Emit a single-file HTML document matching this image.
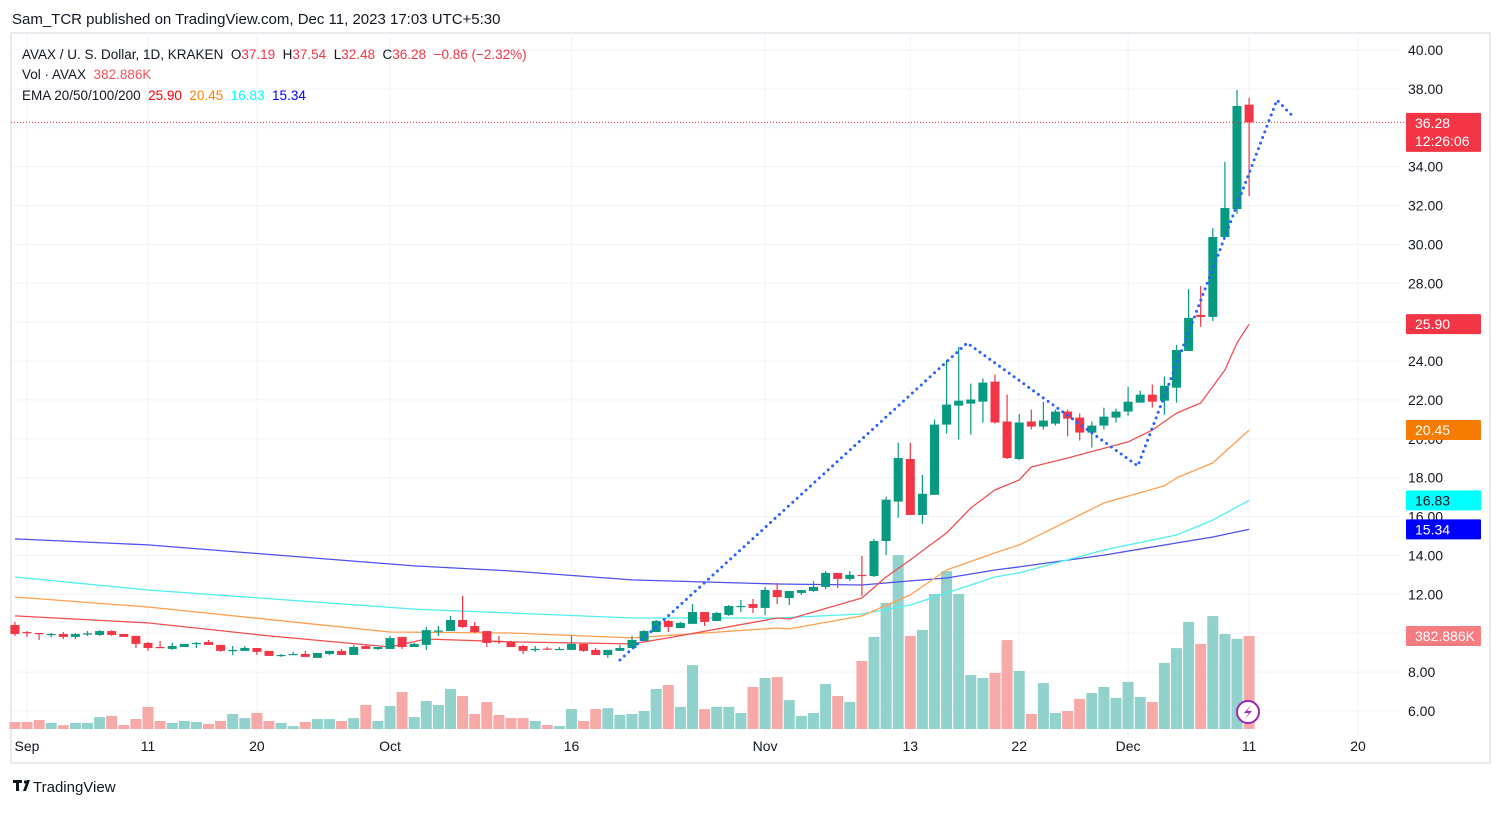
<!DOCTYPE html>
<html><head><meta charset="utf-8">
<style>
html,body{margin:0;padding:0;background:#fff;}
body{width:1504px;height:808px;overflow:hidden;font-family:"Liberation Sans",sans-serif;}
svg text{font-family:"Liberation Sans",sans-serif;}
</style></head>
<body>
<svg id="chart" width="1504" height="808" viewBox="0 0 1504 808" xmlns="http://www.w3.org/2000/svg">
  <text x="12" y="24" font-size="15" fill="#131722">Sam_TCR published on TradingView.com, Dec 11, 2023 17:03 UTC+5:30</text>
  <rect x="11" y="33" width="1479" height="730" fill="none" stroke="#e0e3eb" stroke-width="1.5"/>
  <g id="grid"></g>
  <g id="vol"></g>
  <g id="ema"></g>
  <g id="candles"></g>
  <g id="zig"></g>
  <g id="axes"></g>
  <g font-size="13.5">
    <text x="22" y="59" fill="#131722">AVAX / U. S. Dollar, 1D, KRAKEN&#160; O<tspan fill="#f23645">37.19</tspan>&#160; H<tspan fill="#f23645">37.54</tspan>&#160; L<tspan fill="#f23645">32.48</tspan>&#160; C<tspan fill="#f23645">36.28</tspan>&#160; <tspan fill="#f23645">−0.86 (−2.32%)</tspan></text>
    <text x="22" y="79" fill="#131722">Vol · AVAX&#160; <tspan fill="#f7525f">382.886K</tspan></text>
    <text x="22" y="100" fill="#131722">EMA 20/50/100/200&#160; <tspan fill="#ff0000">25.90</tspan>&#160; <tspan fill="#ff8000">20.45</tspan>&#160; <tspan fill="#00ffff">16.83</tspan>&#160; <tspan fill="#0000ff">15.34</tspan></text>
  </g>
  <g>
    <path d="M13 780h9v3h-3v8h-3v-8h-3z M23 791l4-11h3l-4 11z" fill="#131722"/>
    <circle cx="25.5" cy="782" r="1.6" fill="#131722"/>
    <text x="33" y="792" font-size="15" fill="#131722">TradingView</text>
  </g>
</svg>
<script>
// ---- data ----
const startDayIndex = -1; // Aug 31
const opens  = [10.42,10.06,10.01,9.91,9.96,9.81,9.94,9.91,10.11,9.96,9.86,9.50,9.29,9.19,9.29,9.47,9.55,9.40,9.11,9.09,9.24,9.09,8.86,8.91,8.93,8.73,8.93,9.09,8.88,9.34,9.19,9.19,9.81,9.29,9.40,10.09,10.11,10.68,10.37,10.11,9.60,9.55,9.34,9.16,9.21,9.16,9.14,9.45,9.14,8.88,9.09,9.24,9.60,10.06,10.63,10.27,10.48,11.09,10.63,10.94,11.38,11.50,11.30,12.22,11.81,12.07,12.17,12.38,13.10,12.79,13.00,12.94,14.74,16.77,18.96,16.08,17.12,20.73,21.71,21.81,21.91,22.94,20.89,18.96,20.89,20.63,20.78,21.40,21.09,20.32,20.68,21.09,21.40,21.86,22.27,21.96,22.63,24.52,26.37,26.27,30.38,31.82,37.19];
const highs  = [10.58,10.11,10.01,10.01,10.06,10.01,10.11,10.16,10.16,9.96,9.86,9.55,9.60,9.50,9.45,9.55,9.65,9.40,9.34,9.34,9.24,9.09,8.93,9.04,9.09,8.98,9.09,9.19,9.40,9.40,9.29,9.86,9.81,9.50,10.32,10.37,10.89,11.92,10.58,10.11,9.86,9.60,9.40,9.34,9.29,9.29,9.86,9.45,9.24,9.14,9.40,9.86,10.16,10.68,10.68,10.58,11.50,11.09,11.09,11.45,11.71,11.76,12.38,12.58,12.17,12.22,12.68,13.20,13.10,13.20,13.97,14.84,17.02,19.80,19.80,18.14,20.99,24.06,24.73,22.84,23.10,23.30,22.28,21.27,21.50,21.91,21.50,21.50,21.30,20.89,21.60,21.55,22.68,22.48,22.79,23.20,24.83,27.70,27.86,30.84,34.24,37.94,37.54];
const lows   = [9.86,9.81,9.65,9.81,9.70,9.70,9.86,9.86,9.86,9.81,9.24,9.09,9.24,9.14,9.29,9.24,9.40,9.04,8.88,9.09,8.88,8.83,8.78,8.88,8.78,8.73,8.88,8.88,8.88,9.19,9.14,9.19,9.19,9.29,9.14,9.86,10.11,10.27,10.01,9.29,9.45,9.29,8.93,9.04,9.14,9.14,9.14,9.04,8.88,8.73,9.09,9.24,9.60,10.06,10.06,10.27,10.48,10.37,10.63,10.89,11.09,11.04,10.94,11.50,11.45,11.97,12.12,12.27,12.32,12.68,11.92,12.89,14.02,15.94,16.08,15.63,17.12,20.27,19.96,20.22,20.84,20.78,18.96,18.91,20.48,20.48,20.68,20.12,19.91,19.55,20.48,20.84,21.19,21.86,21.60,21.24,21.86,24.52,25.76,26.06,30.38,31.56,32.48];
const closes = [9.96,10.01,9.96,9.96,9.81,9.96,9.99,10.11,9.91,9.81,9.45,9.24,9.27,9.34,9.45,9.50,9.40,9.09,9.14,9.24,9.04,8.83,8.88,8.93,8.78,8.98,9.09,8.88,9.29,9.19,9.29,9.75,9.29,9.45,10.16,10.14,10.68,10.32,10.06,9.50,9.58,9.29,9.09,9.19,9.16,9.19,9.45,9.09,8.88,9.14,9.24,9.65,10.11,10.63,10.32,10.53,11.09,10.58,11.04,11.40,11.40,11.30,12.22,11.86,12.17,12.22,12.38,13.10,12.79,13.00,12.97,14.74,16.87,19.01,16.08,17.17,20.73,21.76,21.96,22.02,22.89,20.84,19.01,20.84,20.63,20.94,21.40,21.04,20.32,20.68,21.14,21.40,21.91,22.27,21.91,22.73,24.57,26.22,26.27,30.38,31.87,37.12,36.28];
const volumesK = [29,29,37,25,16,25,25,49,54,16,41,91,33,25,33,29,21,33,62,45,66,33,25,12,29,41,41,33,45,99,33,95,152,49,115,99,165,136,62,111,58,45,45,33,16,12,82,33,82,86,58,62,74,165,181,91,263,82,91,91,66,173,210,214,119,54,66,185,136,111,280,379,519,716,383,408,556,650,556,222,210,231,366,239,62,189,66,74,124,148,173,128,194,132,111,272,333,441,350,465,391,371,383];
// EMA samples: day index and value
const ema20Days = [-1,10,20,30,33,40,50,53,62,63,69,71,73,76,78,80,82,83,86,91,93,95,97,99,100,101];
const ema20Vals = [10.89,10.53,9.86,9.29,9.70,9.55,9.45,9.76,10.78,10.73,11.81,12.89,13.77,15.16,16.44,17.37,17.88,18.55,19.01,19.84,20.45,21.32,21.84,23.54,24.93,25.90];
const ema50Days = [-1,10,30,40,50,62,63,69,73,76,80,82,89,94,95,98,101];
const ema50Vals = [11.86,11.35,10.06,10.01,9.76,10.27,10.22,10.89,11.97,13.25,14.13,14.54,16.70,17.58,17.99,18.76,20.45];
const ema100Days = [-1,10,32,40,50,62,69,73,76,80,82,89,95,98,101];
const ema100Vals = [12.89,12.22,11.24,11.04,10.78,10.78,10.99,11.45,12.07,12.89,13.10,14.28,15.05,15.82,16.83];
const ema200Days = [-1,10,32,40,50,62,69,73,76,80,82,89,95,98,101];
const ema200Vals = [14.85,14.54,13.46,13.20,12.74,12.53,12.48,12.69,12.84,13.25,13.41,14.02,14.64,14.95,15.34];
const zigDays = [49,77.7,91.8,103.3,104.5];
const zigVals = [8.62,24.93,18.60,37.43,36.66];
const priceTicks = [40,38,36,34,32,30,28,26,24,22,20,18,16,14,12,10,8,6];
const timeLabels = ["Sep","11","20","Oct","16","Nov","13","22","Dec","11","20"];
const timeDays   = [0,10,19,30,45,61,73,82,91,101,110];

// ---- scales ----
const X = d => 27 + 12.1*d;
const Y = p => 50 + (40-p)*19.44;
const YV = v => 729 - v/4.117;
const NS = "http://www.w3.org/2000/svg";
function mk(tag, parent, attrs){const e=document.createElementNS(NS,tag);for(const k in attrs)e.setAttribute(k,attrs[k]);parent.appendChild(e);return e;}
const grid=document.getElementById('grid'), vol=document.getElementById('vol'), ema=document.getElementById('ema'), cg=document.getElementById('candles'), zig=document.getElementById('zig'), axes=document.getElementById('axes');

priceTicks.forEach(p=>{
  const l=mk('line',grid,{x1:11,x2:1400,y1:Y(p),y2:Y(p),stroke:'#f0f3fa','stroke-width':1});
  
  
  const t=mk('text',axes,{x:1408,y:Y(p)+5,'font-size':14,fill:'#131722'});
  t.textContent=p.toFixed(2);
  
  
});
timeDays.forEach((d,i)=>{
  const l=mk('line',grid,{x1:X(d),x2:X(d),y1:33,y2:737,stroke:'#f0f3fa','stroke-width':1});
  
  
  const t=mk('text',axes,{x:X(d),y:751,'font-size':14,fill:'#131722','text-anchor':'middle'});
  t.textContent=timeLabels[i];
  
  
});

closes.forEach((c,i)=>{
  const d=startDayIndex+i, up=c>=opens[i];
  const r=mk('rect',vol,{x:X(d)-5.5,y:YV(volumesK[i]),width:11,height:729-YV(volumesK[i]),fill:up?'#92d2cc':'#f7a9a7'});
  
  
});

function emaLine(days,vals,color,name){
  const pts=days.map((d,i)=>X(d).toFixed(1)+','+Y(vals[i]).toFixed(1)).join(' ');
  const pl=mk('polyline',ema,{points:pts,fill:'none',stroke:color,'stroke-width':1.3,'stroke-linejoin':'round'});
  
  
}
emaLine(ema200Days,ema200Vals,'#5050f0','ema-200-line');
emaLine(ema100Days,ema100Vals,'#50f0f0','ema-100-line');
emaLine(ema50Days,ema50Vals,'#ffa050','ema-50-line');
emaLine(ema20Days,ema20Vals,'#f05050','ema-20-line');

closes.forEach((c,i)=>{
  const d=startDayIndex+i,o=opens[i],up=c>=o,col=up?'#089981':'#f23645';
  const w=mk('line',cg,{x1:X(d),x2:X(d),y1:Y(highs[i]),y2:Y(lows[i]),stroke:col,'stroke-width':1.2});
  
  
  const top=Y(Math.max(o,c)),h=Math.max(1.2,Math.abs(Y(o)-Y(c)));
  const b=mk('rect',cg,{x:X(d)-4.5,y:top,width:9,height:h,fill:col});
  
  
});

const zp=zigDays.map((d,i)=>X(d).toFixed(1)+','+Y(zigVals[i]).toFixed(1)).join(' ');
const zl=mk('polyline',zig,{points:zp,fill:'none',stroke:'#2962ff','stroke-width':3,'stroke-dasharray':'0 6','stroke-linecap':'round'});



// current price line
const last=closes[closes.length-1];
const pl=mk('line',axes,{x1:11,x2:1406,y1:Y(last),y2:Y(last),stroke:'#f23645','stroke-width':1,'stroke-dasharray':'1 2'});



function tag(yc,h,bg,fg,lines,name){
  const r=mk('rect',axes,{x:1406,y:yc-h/2,width:75,height:h,fill:bg,rx:1});
  
  
  lines.forEach((s,k)=>{const t=mk('text',axes,{x:1415,y:yc-h/2+15+k*18,'font-size':14,fill:fg});t.textContent=s;
    
    });
}
tag(Y(last)+10,39,'#f23645','#fff',[last.toFixed(2),'12:26:06'],'last-price-tag');
tag(Y(ema20Vals[ema20Vals.length-1]),20,'#f23645','#fff',[ema20Vals[ema20Vals.length-1].toFixed(2)],'ema20-tag');
tag(Y(ema50Vals[ema50Vals.length-1]),20,'#f57c00','#fff',[ema50Vals[ema50Vals.length-1].toFixed(2)],'ema50-tag');
tag(Y(ema100Vals[ema100Vals.length-1]),20,'#00ffff','#131722',[ema100Vals[ema100Vals.length-1].toFixed(2)],'ema100-tag');
tag(Y(ema200Vals[ema200Vals.length-1]),20,'#0000ff','#fff',[ema200Vals[ema200Vals.length-1].toFixed(2)],'ema200-tag');
tag(YV(volumesK[volumesK.length-1]),20,'#f77c80','#fff',['382.886K'],'volume-tag');

// lightning icon
const ic=mk('g',axes,{});


mk('circle',ic,{cx:1248,cy:712,r:11,fill:'#fff',stroke:'#9c27b0','stroke-width':2});
mk('path',ic,{d:'M1251 705 L1244 713 L1249 713 L1245 719 L1252 711 L1247 711 Z',fill:'#9c27b0'});
</script>
</body></html>
